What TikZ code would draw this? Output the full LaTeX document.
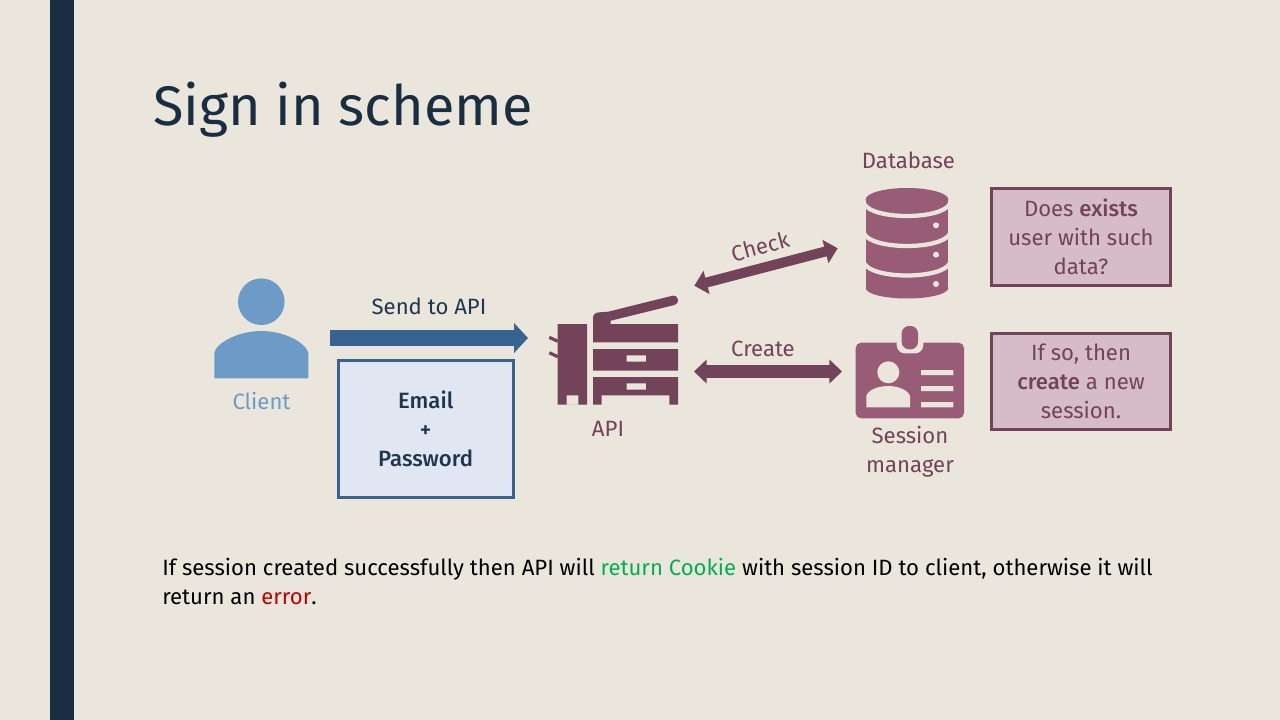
\documentclass[tikz,border=0pt]{standalone}
\usepackage{fontspec}
\setmainfont{Fira Sans}
\newfontfamily\medfont{Fira Sans Medium}
\usetikzlibrary{arrows.meta}
\definecolor{bgc}{HTML}{EAE6DC}
\definecolor{barc}{HTML}{1A2E42}
\definecolor{clientc}{HTML}{6D9BC7}
\definecolor{bluec}{HTML}{366390}
\definecolor{plumc}{HTML}{724359}
\definecolor{roseC}{HTML}{985C76}
\definecolor{lightb}{HTML}{E0E7F2}
\definecolor{lightp}{HTML}{D6BBC9}
\definecolor{okc}{HTML}{00B050}
\definecolor{errc}{HTML}{C00000}
\tikzset{
 lab/.style={inner sep=0pt,font=\fontsize{16.6pt}{21.75pt}\selectfont,align=center},
 infobox/.style={draw=plumc,fill=lightp,line width=2.25pt,text=plumc,inner sep=0pt,minimum width=134.25pt,minimum height=72pt,align=center,font=\fontsize{16.6pt}{21.75pt}\selectfont},
}
\begin{document}
\begin{tikzpicture}[x=0.75pt,y=-0.75pt]
\useasboundingbox (0,0) rectangle (1280,720);
\fill[bgc] (0,0) rectangle (1280,720);
\fill[barc] (50,0) rectangle (74,720);
\node[anchor=base west,inner sep=0pt,text=barc,font=\fontsize{41.8pt}{50pt}\selectfont] (title) at (153,126) {Sign in scheme};

% Client icon
\fill[clientc] (261.3,301.7) circle (23.3);
\fill[clientc] (214.3,378.3) -- (214.3,353) .. controls (216,343) and (238,331) .. (261.3,331) .. controls (285,331) and (306,343) .. (308.3,353) -- (308.3,378.3) -- cycle;
\node[lab,text=clientc] (client) at (261.5,401) {Client};

% Send arrow
\coordinate (sendA) at (330,338);
\coordinate (sendB) at (528,338);
\draw[bluec,line width=11.5pt,-{Triangle[length=10.5pt,width=22pt]}] (sendA) -- (sendB);
\node[lab,text=barc!85!bluec] (send) at (429,306) {Send to API};

\node[draw=bluec,fill=lightb,line width=2.25pt,inner sep=0pt,minimum width=131.5pt,minimum height=103pt,align=center,text=barc!85!bluec,font=\fontsize{16.6pt}{21.75pt}\medfont] (cred) at (425.7,429) {Email\\+\\Password};

% API printer icon
\begin{scope}[plumc]
\fill[even odd rule] (557.7,324) rectangle (587,404.7) (566.7,395.3) rectangle (578.3,404.7);
\draw[line width=2.4pt] (549.3,337.3) -- (557.7,341.3) (549.3,352.7) -- (557.7,356.7);
\fill (593,342.3) -- (593,318) .. controls (593,314) and (596,312.3) .. (600,312.3) -- (608.3,311.7) -- (672.5,295.7) .. controls (679,295) and (680,303.5) .. (674.5,305) -- (610.7,320.7) -- (610.7,324) -- (678,324) -- (678,342.3) -- cycle;
\fill[even odd rule] (593,349) rectangle (678,370.7) (626.7,355.3) rectangle (646,361.7);
\fill[even odd rule] (593,377) -- (678,377) -- (678,404.7) -- (669.3,404.7) -- (669.3,395.3) -- (601.7,395.3) -- (601.7,404.7) -- (593,404.7) -- cycle (626.7,383.3) rectangle (646,389.7);
\end{scope}
\node[lab,text=plumc] (api) at (608,429) {API};

% Check / Create arrows
\coordinate (chkA) at (694.3,285.7);
\coordinate (chkB) at (837.7,248.3);
\draw[plumc,line width=7.5pt,{Triangle[length=9.5pt,width=17.5pt]}-{Triangle[length=9.5pt,width=17.5pt]}] (chkA) -- (chkB);
\node[lab,text=plumc,rotate=15] (check) at (760,246.5) {Check};
\coordinate (crA) at (694,371.5);
\coordinate (crB) at (842,371.5);
\draw[plumc,line width=9.5pt,{Triangle[length=9.5pt,width=17.5pt]}-{Triangle[length=9.5pt,width=17.5pt]}] (crA) -- (crB);
\node[lab,text=plumc] (create) at (763,349) {Create};

% Database icon
\fill[roseC] (907,199.5) ellipse (41.3 and 11.5);
\fill[roseC] (907,288) ellipse (41.3 and 10.5);
\fill[roseC] (865.7,199.5) rectangle (948.3,288);
\draw[bgc,line width=3.2pt] (864,203.5) .. controls (868,212) and (888,216) .. (907,216) .. controls (926,216) and (946,212) .. (950,203.5);
\draw[bgc,line width=3.2pt] (864,233.5) .. controls (868,242) and (888,246) .. (907,246) .. controls (926,246) and (946,242) .. (950,233.5);
\draw[bgc,line width=3.2pt] (864,263) .. controls (868,271.5) and (888,275.5) .. (907,275.5) .. controls (926,275.5) and (946,271.5) .. (950,263);
\fill[bgc] (936,225.3) circle (3) (936,254.7) circle (3) (936,284) circle (3);
\node[lab,text=plumc] (db) at (908.5,160) {Database};

% Badge icon
\fill[roseC,rounded corners=4pt] (855.7,342.7) rectangle (964,418.3);
\fill[bgc,rounded corners=6pt] (896.7,335) rectangle (923.3,353.3);
\fill[bgc] (896.7,335) rectangle (923.3,342.7);
\fill[roseC,rounded corners=5.5pt] (901.7,326) rectangle (918,349.3);
\fill[bgc] (888.3,372.3) circle (11);
\fill[bgc] (866.3,407.3) -- (866.3,396) .. controls (868,390) and (878,386) .. (888.3,386) .. controls (898,386) and (908,390) .. (910,396) -- (910,407.3) -- cycle;
\fill[bgc] (921,370) rectangle (953.3,375) (921,386) rectangle (953.3,391) (921,402) rectangle (953.3,407.3);
\node[lab,text=plumc] (sm) at (910,452) {Session\\manager};

% Info boxes
\node[infobox] (q1) at (1081,237) {Does {\medfont exists}\\user with such\\data?};
\node[infobox] (q2) at (1081,381) {If so, then\\{\medfont create} a new\\session.};

% Bottom text
\node[anchor=base west,inner sep=0pt,text=black,font=\fontsize{16.6pt}{21.75pt}\selectfont] (t1) at (162,575) {If session created successfully then API will \textcolor{okc}{return Cookie} with session ID to client, otherwise it will};
\node[anchor=base west,inner sep=0pt,text=black,font=\fontsize{16.6pt}{21.75pt}\selectfont] (t2) at (162,604) {return an \textcolor{errc}{error}.};
\end{tikzpicture}
\end{document}
